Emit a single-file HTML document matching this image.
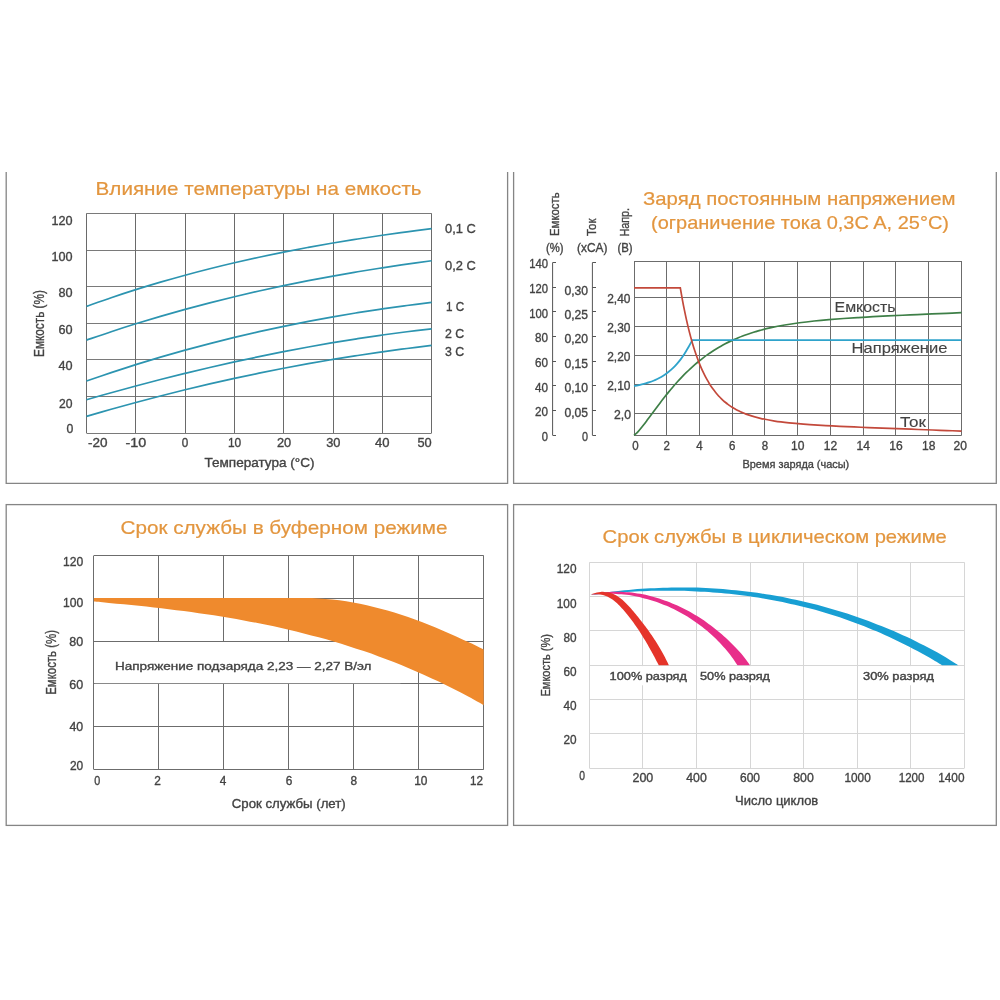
<!DOCTYPE html>
<html lang="ru">
<head>
<meta charset="utf-8">
<title>Графики характеристик аккумулятора</title>
<style>
html,body{margin:0;padding:0;background:#fff;}
body{width:1000px;height:1000px;overflow:hidden;}
svg{display:block;font-family:"Liberation Sans", sans-serif;will-change:transform;}
</style>
</head>
<body>
<svg width="1000" height="1000" viewBox="0 0 1000 1000">
<rect width="1000" height="1000" fill="#ffffff"/>
<path d="M6.2,172 V483.3 H507.6 V172" fill="none" stroke="#858585" stroke-width="1.3"/>
<path d="M513.6,172 V483.3 H996.3 V172" fill="none" stroke="#858585" stroke-width="1.3"/>
<rect x="6.2" y="504.6" width="501.40" height="320.80" fill="none" stroke="#858585" stroke-width="1.3"/>
<rect x="513.6" y="504.6" width="482.70" height="320.80" fill="none" stroke="#858585" stroke-width="1.3"/>
<line x1="86.50" y1="213.50" x2="431.60" y2="213.50" stroke="#7a7a7a" stroke-width="1"/>
<line x1="86.50" y1="250.50" x2="431.60" y2="250.50" stroke="#7a7a7a" stroke-width="1"/>
<line x1="86.50" y1="286.50" x2="431.60" y2="286.50" stroke="#7a7a7a" stroke-width="1"/>
<line x1="86.50" y1="323.50" x2="431.60" y2="323.50" stroke="#7a7a7a" stroke-width="1"/>
<line x1="86.50" y1="359.50" x2="431.60" y2="359.50" stroke="#7a7a7a" stroke-width="1"/>
<line x1="86.50" y1="396.50" x2="431.60" y2="396.50" stroke="#7a7a7a" stroke-width="1"/>
<line x1="86.50" y1="433.50" x2="431.60" y2="433.50" stroke="#7a7a7a" stroke-width="1"/>
<line x1="86.50" y1="213.40" x2="86.50" y2="433.00" stroke="#6a6a6a" stroke-width="1"/>
<line x1="135.50" y1="213.40" x2="135.50" y2="433.00" stroke="#6a6a6a" stroke-width="1"/>
<line x1="185.50" y1="213.40" x2="185.50" y2="433.00" stroke="#6a6a6a" stroke-width="1"/>
<line x1="234.50" y1="213.40" x2="234.50" y2="433.00" stroke="#6a6a6a" stroke-width="1"/>
<line x1="283.50" y1="213.40" x2="283.50" y2="433.00" stroke="#6a6a6a" stroke-width="1"/>
<line x1="333.50" y1="213.40" x2="333.50" y2="433.00" stroke="#6a6a6a" stroke-width="1"/>
<line x1="382.50" y1="213.40" x2="382.50" y2="433.00" stroke="#6a6a6a" stroke-width="1"/>
<line x1="431.50" y1="213.40" x2="431.50" y2="433.00" stroke="#6a6a6a" stroke-width="1"/>
<path d="M86.50,306.40 C90.61,304.96 102.93,300.53 111.15,297.74 C119.37,294.96 127.58,292.27 135.80,289.68 C144.02,287.09 152.23,284.59 160.45,282.18 C168.67,279.77 176.88,277.45 185.10,275.21 C193.32,272.97 201.53,270.82 209.75,268.75 C217.97,266.67 226.18,264.68 234.40,262.76 C242.62,260.84 250.83,259.00 259.05,257.22 C267.27,255.44 275.48,253.74 283.70,252.10 C291.92,250.46 300.13,248.89 308.35,247.37 C316.57,245.85 324.78,244.40 333.00,243.00 C341.22,241.61 349.43,240.27 357.65,238.97 C365.87,237.68 374.08,236.44 382.30,235.25 C390.52,234.05 398.73,232.91 406.95,231.80 C415.17,230.69 427.49,229.14 431.60,228.60" fill="none" stroke="#2c94b0" stroke-width="1.7" stroke-linecap="butt"/>
<path d="M86.50,340.11 C90.61,338.71 102.93,334.42 111.15,331.70 C119.37,328.98 127.58,326.35 135.80,323.79 C144.02,321.23 152.23,318.75 160.45,316.35 C168.67,313.95 176.88,311.62 185.10,309.37 C193.32,307.11 201.53,304.93 209.75,302.82 C217.97,300.71 226.18,298.67 234.40,296.70 C242.62,294.72 250.83,292.82 259.05,290.98 C267.27,289.13 275.48,287.36 283.70,285.64 C291.92,283.93 300.13,282.27 308.35,280.68 C316.57,279.08 324.78,277.54 333.00,276.06 C341.22,274.58 349.43,273.16 357.65,271.78 C365.87,270.41 374.08,269.09 382.30,267.82 C390.52,266.54 398.73,265.33 406.95,264.15 C415.17,262.98 427.49,261.33 431.60,260.77" fill="none" stroke="#2c94b0" stroke-width="1.7" stroke-linecap="butt"/>
<path d="M86.50,381.04 C90.61,379.63 102.93,375.34 111.15,372.61 C119.37,369.88 127.58,367.24 135.80,364.66 C144.02,362.09 152.23,359.60 160.45,357.18 C168.67,354.76 176.88,352.42 185.10,350.15 C193.32,347.88 201.53,345.68 209.75,343.56 C217.97,341.43 226.18,339.38 234.40,337.40 C242.62,335.42 250.83,333.51 259.05,331.66 C267.27,329.82 275.48,328.05 283.70,326.34 C291.92,324.63 300.13,322.99 308.35,321.41 C316.57,319.83 324.78,318.32 333.00,316.87 C341.22,315.42 349.43,314.04 357.65,312.71 C365.87,311.38 374.08,310.12 382.30,308.91 C390.52,307.71 398.73,306.56 406.95,305.47 C415.17,304.38 427.49,302.89 431.60,302.38" fill="none" stroke="#2c94b0" stroke-width="1.7" stroke-linecap="butt"/>
<path d="M86.50,399.71 C90.61,398.54 102.93,395.01 111.15,392.72 C119.37,390.44 127.58,388.20 135.80,386.00 C144.02,383.80 152.23,381.65 160.45,379.55 C168.67,377.44 176.88,375.39 185.10,373.38 C193.32,371.37 201.53,369.40 209.75,367.49 C217.97,365.58 226.18,363.71 234.40,361.90 C242.62,360.09 250.83,358.33 259.05,356.62 C267.27,354.91 275.48,353.25 283.70,351.64 C291.92,350.04 300.13,348.48 308.35,346.99 C316.57,345.49 324.78,344.05 333.00,342.66 C341.22,341.27 349.43,339.94 357.65,338.67 C365.87,337.40 374.08,336.18 382.30,335.02 C390.52,333.86 398.73,332.77 406.95,331.73 C415.17,330.69 427.49,329.28 431.60,328.79" fill="none" stroke="#2c94b0" stroke-width="1.7" stroke-linecap="butt"/>
<path d="M86.50,416.42 C90.61,415.23 102.93,411.61 111.15,409.28 C119.37,406.96 127.58,404.68 135.80,402.46 C144.02,400.25 152.23,398.08 160.45,395.97 C168.67,393.86 176.88,391.80 185.10,389.80 C193.32,387.79 201.53,385.84 209.75,383.94 C217.97,382.05 226.18,380.20 234.40,378.41 C242.62,376.62 250.83,374.88 259.05,373.19 C267.27,371.51 275.48,369.87 283.70,368.29 C291.92,366.71 300.13,365.18 308.35,363.71 C316.57,362.23 324.78,360.81 333.00,359.43 C341.22,358.06 349.43,356.74 357.65,355.47 C365.87,354.21 374.08,352.99 382.30,351.82 C390.52,350.66 398.73,349.55 406.95,348.48 C415.17,347.42 427.49,345.96 431.60,345.45" fill="none" stroke="#2c94b0" stroke-width="1.7" stroke-linecap="butt"/>
<text x="95.60" y="195.30" font-size="18.6" fill="#e3963f" stroke="#e3963f" stroke-width="0.2" textLength="326.00" lengthAdjust="spacingAndGlyphs">Влияние температуры на емкость</text>
<text x="51.40" y="224.70" font-size="12.7" fill="#434343" stroke="#434343" stroke-width="0.35" textLength="21.10" lengthAdjust="spacingAndGlyphs">120</text>
<text x="51.40" y="261.00" font-size="12.7" fill="#434343" stroke="#434343" stroke-width="0.35" textLength="21.10" lengthAdjust="spacingAndGlyphs">100</text>
<text x="58.40" y="297.30" font-size="12.7" fill="#434343" stroke="#434343" stroke-width="0.35" textLength="14.10" lengthAdjust="spacingAndGlyphs">80</text>
<text x="58.40" y="333.60" font-size="12.7" fill="#434343" stroke="#434343" stroke-width="0.35" textLength="14.10" lengthAdjust="spacingAndGlyphs">60</text>
<text x="58.40" y="370.30" font-size="12.7" fill="#434343" stroke="#434343" stroke-width="0.35" textLength="14.10" lengthAdjust="spacingAndGlyphs">40</text>
<text x="59.00" y="408.20" font-size="12.7" fill="#434343" stroke="#434343" stroke-width="0.35" textLength="13.50" lengthAdjust="spacingAndGlyphs">20</text>
<text x="66.60" y="433.20" font-size="12.7" fill="#434343" stroke="#434343" stroke-width="0.35" textLength="6.80" lengthAdjust="spacingAndGlyphs">0</text>
<text x="88.00" y="446.60" font-size="12.7" fill="#434343" stroke="#434343" stroke-width="0.35" textLength="19.50" lengthAdjust="spacingAndGlyphs">-20</text>
<text x="125.50" y="446.60" font-size="12.7" fill="#434343" stroke="#434343" stroke-width="0.35" textLength="20.75" lengthAdjust="spacingAndGlyphs">-10</text>
<text x="181.75" y="446.60" font-size="12.7" fill="#434343" stroke="#434343" stroke-width="0.35" textLength="6.50" lengthAdjust="spacingAndGlyphs">0</text>
<text x="228.00" y="446.60" font-size="12.7" fill="#434343" stroke="#434343" stroke-width="0.35" textLength="13.25" lengthAdjust="spacingAndGlyphs">10</text>
<text x="277.00" y="446.60" font-size="12.7" fill="#434343" stroke="#434343" stroke-width="0.35" textLength="14.25" lengthAdjust="spacingAndGlyphs">20</text>
<text x="326.25" y="446.60" font-size="12.7" fill="#434343" stroke="#434343" stroke-width="0.35" textLength="14.25" lengthAdjust="spacingAndGlyphs">30</text>
<text x="375.00" y="446.60" font-size="12.7" fill="#434343" stroke="#434343" stroke-width="0.35" textLength="14.50" lengthAdjust="spacingAndGlyphs">40</text>
<text x="417.50" y="446.60" font-size="12.7" fill="#434343" stroke="#434343" stroke-width="0.35" textLength="14.25" lengthAdjust="spacingAndGlyphs">50</text>
<text x="204.50" y="466.50" font-size="12.6" fill="#434343" stroke="#434343" stroke-width="0.35" textLength="110.00" lengthAdjust="spacingAndGlyphs">Температура (°C)</text>
<text x="445.00" y="233.25" font-size="13.2" fill="#434343" stroke="#434343" stroke-width="0.35" textLength="30.75" lengthAdjust="spacingAndGlyphs">0,1 C</text>
<text x="445.00" y="270.00" font-size="13.2" fill="#434343" stroke="#434343" stroke-width="0.35" textLength="30.75" lengthAdjust="spacingAndGlyphs">0,2 C</text>
<text x="446.00" y="310.50" font-size="13.2" fill="#434343" stroke="#434343" stroke-width="0.35" textLength="18.25" lengthAdjust="spacingAndGlyphs">1 C</text>
<text x="445.00" y="337.50" font-size="13.2" fill="#434343" stroke="#434343" stroke-width="0.35" textLength="19.25" lengthAdjust="spacingAndGlyphs">2 C</text>
<text x="445.00" y="355.50" font-size="13.2" fill="#434343" stroke="#434343" stroke-width="0.35" textLength="19.25" lengthAdjust="spacingAndGlyphs">3 C</text>
<text transform="translate(43.50,357.00) rotate(-90)" font-size="14.4" fill="#434343" stroke="#434343" stroke-width="0.35" textLength="67.00" lengthAdjust="spacingAndGlyphs">Емкость (%)</text>
<line x1="634.50" y1="261.00" x2="634.50" y2="435.60" stroke="#6c6c6c" stroke-width="1"/>
<line x1="666.50" y1="261.00" x2="666.50" y2="435.60" stroke="#6c6c6c" stroke-width="1"/>
<line x1="699.50" y1="261.00" x2="699.50" y2="435.60" stroke="#6c6c6c" stroke-width="1"/>
<line x1="732.50" y1="261.00" x2="732.50" y2="435.60" stroke="#6c6c6c" stroke-width="1"/>
<line x1="764.50" y1="261.00" x2="764.50" y2="435.60" stroke="#6c6c6c" stroke-width="1"/>
<line x1="797.50" y1="261.00" x2="797.50" y2="435.60" stroke="#6c6c6c" stroke-width="1"/>
<line x1="830.50" y1="261.00" x2="830.50" y2="435.60" stroke="#6c6c6c" stroke-width="1"/>
<line x1="863.50" y1="261.00" x2="863.50" y2="435.60" stroke="#6c6c6c" stroke-width="1"/>
<line x1="895.50" y1="261.00" x2="895.50" y2="435.60" stroke="#6c6c6c" stroke-width="1"/>
<line x1="928.50" y1="261.00" x2="928.50" y2="435.60" stroke="#6c6c6c" stroke-width="1"/>
<line x1="961.50" y1="261.00" x2="961.50" y2="435.60" stroke="#6c6c6c" stroke-width="1"/>
<line x1="634.00" y1="261.50" x2="961.40" y2="261.50" stroke="#6c6c6c" stroke-width="1"/>
<line x1="634.00" y1="297.50" x2="961.40" y2="297.50" stroke="#6c6c6c" stroke-width="1"/>
<line x1="634.00" y1="326.50" x2="961.40" y2="326.50" stroke="#6c6c6c" stroke-width="1"/>
<line x1="634.00" y1="355.50" x2="961.40" y2="355.50" stroke="#6c6c6c" stroke-width="1"/>
<line x1="634.00" y1="384.50" x2="961.40" y2="384.50" stroke="#6c6c6c" stroke-width="1"/>
<line x1="634.00" y1="413.50" x2="961.40" y2="413.50" stroke="#6c6c6c" stroke-width="1"/>
<line x1="634.00" y1="435.50" x2="961.40" y2="435.50" stroke="#6c6c6c" stroke-width="1"/>
<path d="M552.6,262.60 V435.22" fill="none" stroke="#555" stroke-width="1"/>
<line x1="552.60" y1="262.50" x2="556.00" y2="262.50" stroke="#555" stroke-width="1"/>
<line x1="552.60" y1="287.50" x2="556.00" y2="287.50" stroke="#555" stroke-width="1"/>
<line x1="552.60" y1="311.50" x2="556.00" y2="311.50" stroke="#555" stroke-width="1"/>
<line x1="552.60" y1="336.50" x2="556.00" y2="336.50" stroke="#555" stroke-width="1"/>
<line x1="552.60" y1="361.50" x2="556.00" y2="361.50" stroke="#555" stroke-width="1"/>
<line x1="552.60" y1="385.50" x2="556.00" y2="385.50" stroke="#555" stroke-width="1"/>
<line x1="552.60" y1="410.50" x2="556.00" y2="410.50" stroke="#555" stroke-width="1"/>
<line x1="552.60" y1="435.50" x2="556.00" y2="435.50" stroke="#555" stroke-width="1"/>
<path d="M592.4,262.60 V435.22" fill="none" stroke="#555" stroke-width="1"/>
<line x1="592.40" y1="262.50" x2="596.00" y2="262.50" stroke="#555" stroke-width="1"/>
<line x1="592.40" y1="287.50" x2="596.00" y2="287.50" stroke="#555" stroke-width="1"/>
<line x1="592.40" y1="311.50" x2="596.00" y2="311.50" stroke="#555" stroke-width="1"/>
<line x1="592.40" y1="336.50" x2="596.00" y2="336.50" stroke="#555" stroke-width="1"/>
<line x1="592.40" y1="361.50" x2="596.00" y2="361.50" stroke="#555" stroke-width="1"/>
<line x1="592.40" y1="385.50" x2="596.00" y2="385.50" stroke="#555" stroke-width="1"/>
<line x1="592.40" y1="410.50" x2="596.00" y2="410.50" stroke="#555" stroke-width="1"/>
<line x1="592.40" y1="435.50" x2="596.00" y2="435.50" stroke="#555" stroke-width="1"/>
<path d="M634.00,435.40 C634.72,434.73 636.90,432.91 638.34,431.35 C639.79,429.80 641.24,427.89 642.69,426.06 C644.14,424.23 645.59,422.28 647.03,420.35 C648.48,418.43 649.93,416.45 651.38,414.50 C652.83,412.55 654.28,410.59 655.72,408.65 C657.17,406.72 658.62,404.79 660.07,402.90 C661.52,401.00 662.97,399.13 664.41,397.30 C665.86,395.47 667.31,393.66 668.76,391.90 C670.21,390.14 671.66,388.41 673.10,386.72 C674.55,385.04 676.00,383.40 677.45,381.79 C678.90,380.19 680.34,378.64 681.79,377.12 C683.24,375.60 684.69,374.13 686.14,372.70 C687.59,371.28 689.03,369.89 690.48,368.55 C691.93,367.20 693.38,365.90 694.83,364.65 C696.28,363.39 697.72,362.17 699.17,360.99 C700.62,359.82 702.07,358.68 703.52,357.58 C704.97,356.48 706.41,355.43 707.86,354.40 C709.31,353.38 710.76,352.40 712.21,351.45 C713.66,350.50 715.10,349.58 716.55,348.70 C718.00,347.82 719.45,346.98 720.90,346.16 C722.34,345.34 723.79,344.56 725.24,343.80 C726.69,343.05 728.14,342.32 729.59,341.62 C731.03,340.92 732.48,340.25 733.93,339.61 C735.38,338.96 736.83,338.34 738.28,337.75 C739.72,337.15 741.17,336.58 742.62,336.03 C744.07,335.48 745.52,334.96 746.97,334.45 C748.41,333.95 749.86,333.46 751.31,332.99 C752.76,332.53 754.21,332.08 755.66,331.65 C757.10,331.22 757.61,331.03 760.00,330.41 C762.39,329.79 765.88,328.82 770.00,327.92 C774.12,327.02 779.82,325.86 784.72,325.00 C789.63,324.14 794.54,323.43 799.45,322.76 C804.35,322.10 809.26,321.54 814.17,321.02 C819.08,320.50 823.98,320.05 828.89,319.63 C833.80,319.21 838.71,318.84 843.62,318.49 C848.52,318.14 853.43,317.83 858.34,317.53 C863.25,317.23 868.15,316.95 873.06,316.69 C877.97,316.42 882.88,316.17 887.78,315.93 C892.69,315.68 897.60,315.45 902.51,315.23 C907.42,315.00 912.32,314.78 917.23,314.57 C922.14,314.35 927.05,314.14 931.95,313.93 C936.86,313.73 941.77,313.52 946.68,313.32 C951.58,313.12 958.95,312.82 961.40,312.72" fill="none" stroke="#3e7f47" stroke-width="1.7" stroke-linecap="butt"/>
<path d="M634.00,385.97 C634.65,385.85 636.59,385.53 637.89,385.28 C639.18,385.02 640.48,384.74 641.77,384.43 C643.07,384.12 644.36,383.79 645.66,383.41 C646.96,383.04 648.25,382.64 649.55,382.19 C650.84,381.74 652.14,381.26 653.43,380.73 C654.73,380.19 656.02,379.62 657.32,378.98 C658.62,378.35 659.91,377.66 661.21,376.91 C662.50,376.16 663.80,375.35 665.09,374.45 C666.39,373.56 667.68,372.61 668.98,371.55 C670.28,370.50 671.57,369.37 672.87,368.13 C674.16,366.88 675.46,365.55 676.75,364.09 C678.05,362.62 679.34,361.06 680.64,359.34 C681.94,357.61 683.23,355.78 684.53,353.75 C685.82,351.73 687.12,349.45 688.41,347.19 C689.71,344.93 691.65,341.36 692.30,340.20 L961.40,340.2" fill="none" stroke="#2fa3cb" stroke-width="1.8" stroke-linejoin="miter"/>
<path d="M634,287.9 L680.30,287.90 C680.64,289.85 681.67,295.87 682.36,299.59 C683.04,303.30 683.73,306.83 684.42,310.20 C685.10,313.58 685.79,316.79 686.48,319.86 C687.16,322.93 687.85,325.84 688.53,328.64 C689.22,331.43 689.91,334.08 690.59,336.62 C691.28,339.17 691.97,341.58 692.65,343.90 C693.34,346.21 694.02,348.41 694.71,350.52 C695.40,352.63 696.08,354.64 696.77,356.56 C697.46,358.48 698.14,360.31 698.83,362.07 C699.51,363.82 700.20,365.49 700.89,367.09 C701.57,368.69 702.26,370.21 702.94,371.68 C703.63,373.14 704.32,374.53 705.00,375.87 C705.69,377.20 706.38,378.47 707.06,379.70 C707.75,380.92 708.43,382.08 709.12,383.20 C709.81,384.32 710.49,385.38 711.18,386.41 C711.87,387.43 712.55,388.41 713.24,389.34 C713.92,390.28 714.61,391.18 715.30,392.04 C715.98,392.90 716.67,393.72 717.36,394.51 C718.04,395.29 718.73,396.05 719.41,396.77 C720.10,397.50 720.79,398.19 721.47,398.85 C722.16,399.52 722.84,400.15 723.53,400.77 C724.22,401.38 724.90,401.96 725.59,402.53 C726.28,403.09 726.96,403.63 727.65,404.15 C728.33,404.67 729.02,405.16 729.71,405.64 C730.39,406.12 731.08,406.58 731.77,407.02 C732.45,407.46 733.14,407.88 733.82,408.29 C734.51,408.70 735.20,409.09 735.88,409.46 C736.57,409.84 737.26,410.20 737.94,410.55 C738.63,410.90 738.66,410.97 740.00,411.56 C741.34,412.14 742.61,412.95 746.00,414.08 C749.39,415.22 755.57,417.19 760.36,418.35 C765.15,419.51 769.93,420.30 774.72,421.05 C779.51,421.79 784.29,422.33 789.08,422.85 C793.87,423.36 798.65,423.76 803.44,424.14 C808.23,424.52 813.01,424.83 817.80,425.13 C822.59,425.43 827.37,425.68 832.16,425.93 C836.95,426.19 841.73,426.41 846.52,426.63 C851.31,426.85 856.09,427.06 860.88,427.26 C865.67,427.46 870.45,427.66 875.24,427.85 C880.03,428.04 884.81,428.22 889.60,428.41 C894.39,428.59 899.17,428.77 903.96,428.95 C908.75,429.13 913.53,429.31 918.32,429.48 C923.11,429.66 927.89,429.84 932.68,430.01 C937.47,430.19 942.25,430.36 947.04,430.53 C951.83,430.71 959.01,430.96 961.40,431.05" fill="none" stroke="#c3493b" stroke-width="1.7" stroke-linejoin="miter"/>
<text x="643.00" y="204.50" font-size="18.2" fill="#e3963f" stroke="#e3963f" stroke-width="0.2" textLength="312.50" lengthAdjust="spacingAndGlyphs">Заряд постоянным напряжением</text>
<text x="651.00" y="228.70" font-size="18.2" fill="#e3963f" stroke="#e3963f" stroke-width="0.2" textLength="298.00" lengthAdjust="spacingAndGlyphs">(ограничение тока 0,3C A, 25°C)</text>
<text transform="translate(558.60,236.00) rotate(-90)" font-size="13.6" fill="#434343" stroke="#434343" stroke-width="0.35" textLength="43.60" lengthAdjust="spacingAndGlyphs">Емкость</text>
<text transform="translate(596.00,236.00) rotate(-90)" font-size="13.6" fill="#434343" stroke="#434343" stroke-width="0.35" textLength="17.40" lengthAdjust="spacingAndGlyphs">Ток</text>
<text transform="translate(628.60,236.60) rotate(-90)" font-size="13.6" fill="#434343" stroke="#434343" stroke-width="0.35" textLength="28.60" lengthAdjust="spacingAndGlyphs">Напр.</text>
<text x="546.00" y="252.40" font-size="12.2" fill="#434343" stroke="#434343" stroke-width="0.35" textLength="17.60" lengthAdjust="spacingAndGlyphs">(%)</text>
<text x="577.00" y="252.40" font-size="12.2" fill="#434343" stroke="#434343" stroke-width="0.35" textLength="30.40" lengthAdjust="spacingAndGlyphs">(xCA)</text>
<text x="617.40" y="252.40" font-size="12.2" fill="#434343" stroke="#434343" stroke-width="0.35" textLength="15.20" lengthAdjust="spacingAndGlyphs">(B)</text>
<text x="529.20" y="268.30" font-size="12.9" fill="#434343" stroke="#434343" stroke-width="0.35" textLength="18.80" lengthAdjust="spacingAndGlyphs">140</text>
<text x="529.20" y="292.98" font-size="12.9" fill="#434343" stroke="#434343" stroke-width="0.35" textLength="18.80" lengthAdjust="spacingAndGlyphs">120</text>
<text x="529.20" y="317.66" font-size="12.9" fill="#434343" stroke="#434343" stroke-width="0.35" textLength="18.80" lengthAdjust="spacingAndGlyphs">100</text>
<text x="535.00" y="342.34" font-size="12.9" fill="#434343" stroke="#434343" stroke-width="0.35" textLength="13.00" lengthAdjust="spacingAndGlyphs">80</text>
<text x="535.00" y="367.02" font-size="12.9" fill="#434343" stroke="#434343" stroke-width="0.35" textLength="13.00" lengthAdjust="spacingAndGlyphs">60</text>
<text x="535.00" y="391.70" font-size="12.9" fill="#434343" stroke="#434343" stroke-width="0.35" textLength="13.00" lengthAdjust="spacingAndGlyphs">40</text>
<text x="535.00" y="416.38" font-size="12.9" fill="#434343" stroke="#434343" stroke-width="0.35" textLength="13.00" lengthAdjust="spacingAndGlyphs">20</text>
<text x="541.80" y="441.06" font-size="12.9" fill="#434343" stroke="#434343" stroke-width="0.35" textLength="6.20" lengthAdjust="spacingAndGlyphs">0</text>
<text x="564.40" y="294.50" font-size="12.9" fill="#434343" stroke="#434343" stroke-width="0.35" textLength="23.60" lengthAdjust="spacingAndGlyphs">0,30</text>
<text x="564.40" y="318.93" font-size="12.9" fill="#434343" stroke="#434343" stroke-width="0.35" textLength="23.60" lengthAdjust="spacingAndGlyphs">0,25</text>
<text x="564.40" y="343.36" font-size="12.9" fill="#434343" stroke="#434343" stroke-width="0.35" textLength="23.60" lengthAdjust="spacingAndGlyphs">0,20</text>
<text x="564.40" y="367.79" font-size="12.9" fill="#434343" stroke="#434343" stroke-width="0.35" textLength="23.60" lengthAdjust="spacingAndGlyphs">0,15</text>
<text x="564.40" y="392.22" font-size="12.9" fill="#434343" stroke="#434343" stroke-width="0.35" textLength="23.60" lengthAdjust="spacingAndGlyphs">0,10</text>
<text x="564.40" y="416.65" font-size="12.9" fill="#434343" stroke="#434343" stroke-width="0.35" textLength="23.60" lengthAdjust="spacingAndGlyphs">0,05</text>
<text x="582.00" y="440.98" font-size="12.9" fill="#434343" stroke="#434343" stroke-width="0.35" textLength="6.00" lengthAdjust="spacingAndGlyphs">0</text>
<text x="607.20" y="302.50" font-size="12.9" fill="#434343" stroke="#434343" stroke-width="0.35" textLength="23.20" lengthAdjust="spacingAndGlyphs">2,40</text>
<text x="607.20" y="331.70" font-size="12.9" fill="#434343" stroke="#434343" stroke-width="0.35" textLength="23.20" lengthAdjust="spacingAndGlyphs">2,30</text>
<text x="607.20" y="360.90" font-size="12.9" fill="#434343" stroke="#434343" stroke-width="0.35" textLength="23.20" lengthAdjust="spacingAndGlyphs">2,20</text>
<text x="607.20" y="390.10" font-size="12.9" fill="#434343" stroke="#434343" stroke-width="0.35" textLength="23.20" lengthAdjust="spacingAndGlyphs">2,10</text>
<text x="614.00" y="419.00" font-size="12.9" fill="#434343" stroke="#434343" stroke-width="0.35" textLength="17.00" lengthAdjust="spacingAndGlyphs">2,0</text>
<text x="632.20" y="450.20" font-size="12.9" fill="#434343" stroke="#434343" stroke-width="0.35" textLength="6.40" lengthAdjust="spacingAndGlyphs">0</text>
<text x="663.54" y="450.20" font-size="12.9" fill="#434343" stroke="#434343" stroke-width="0.35" textLength="6.40" lengthAdjust="spacingAndGlyphs">2</text>
<text x="696.28" y="450.20" font-size="12.9" fill="#434343" stroke="#434343" stroke-width="0.35" textLength="6.40" lengthAdjust="spacingAndGlyphs">4</text>
<text x="729.02" y="450.20" font-size="12.9" fill="#434343" stroke="#434343" stroke-width="0.35" textLength="6.40" lengthAdjust="spacingAndGlyphs">6</text>
<text x="761.76" y="450.20" font-size="12.9" fill="#434343" stroke="#434343" stroke-width="0.35" textLength="6.40" lengthAdjust="spacingAndGlyphs">8</text>
<text x="791.00" y="450.20" font-size="12.9" fill="#434343" stroke="#434343" stroke-width="0.35" textLength="13.40" lengthAdjust="spacingAndGlyphs">10</text>
<text x="823.74" y="450.20" font-size="12.9" fill="#434343" stroke="#434343" stroke-width="0.35" textLength="13.40" lengthAdjust="spacingAndGlyphs">12</text>
<text x="856.48" y="450.20" font-size="12.9" fill="#434343" stroke="#434343" stroke-width="0.35" textLength="13.40" lengthAdjust="spacingAndGlyphs">14</text>
<text x="889.22" y="450.20" font-size="12.9" fill="#434343" stroke="#434343" stroke-width="0.35" textLength="13.40" lengthAdjust="spacingAndGlyphs">16</text>
<text x="921.96" y="450.20" font-size="12.9" fill="#434343" stroke="#434343" stroke-width="0.35" textLength="13.40" lengthAdjust="spacingAndGlyphs">18</text>
<text x="953.50" y="450.20" font-size="12.9" fill="#434343" stroke="#434343" stroke-width="0.35" textLength="13.40" lengthAdjust="spacingAndGlyphs">20</text>
<text x="742.50" y="467.50" font-size="11.5" fill="#434343" stroke="#434343" stroke-width="0.35" textLength="106.75" lengthAdjust="spacingAndGlyphs">Время заряда (часы)</text>
<text x="834.60" y="312.40" font-size="14.6" fill="#434343" stroke="#434343" stroke-width="0.12" textLength="61.00" lengthAdjust="spacingAndGlyphs">Емкость</text>
<text x="851.60" y="353.20" font-size="14.6" fill="#434343" stroke="#434343" stroke-width="0.12" textLength="95.80" lengthAdjust="spacingAndGlyphs">Напряжение</text>
<text x="900.00" y="427.00" font-size="14.6" fill="#434343" stroke="#434343" stroke-width="0.12" textLength="26.00" lengthAdjust="spacingAndGlyphs">Ток</text>
<line x1="93.50" y1="555.60" x2="93.50" y2="769.50" stroke="#6c6c6c" stroke-width="1"/>
<line x1="158.50" y1="555.60" x2="158.50" y2="769.50" stroke="#6c6c6c" stroke-width="1"/>
<line x1="223.50" y1="555.60" x2="223.50" y2="769.50" stroke="#6c6c6c" stroke-width="1"/>
<line x1="288.50" y1="555.60" x2="288.50" y2="769.50" stroke="#6c6c6c" stroke-width="1"/>
<line x1="353.50" y1="555.60" x2="353.50" y2="769.50" stroke="#6c6c6c" stroke-width="1"/>
<line x1="418.50" y1="555.60" x2="418.50" y2="769.50" stroke="#6c6c6c" stroke-width="1"/>
<line x1="483.50" y1="555.60" x2="483.50" y2="769.50" stroke="#6c6c6c" stroke-width="1"/>
<line x1="93.90" y1="555.50" x2="483.70" y2="555.50" stroke="#6c6c6c" stroke-width="1"/>
<line x1="93.90" y1="598.50" x2="483.70" y2="598.50" stroke="#6c6c6c" stroke-width="1"/>
<line x1="93.90" y1="641.50" x2="483.70" y2="641.50" stroke="#6c6c6c" stroke-width="1"/>
<line x1="93.90" y1="683.50" x2="483.70" y2="683.50" stroke="#6c6c6c" stroke-width="1"/>
<line x1="93.90" y1="726.50" x2="483.70" y2="726.50" stroke="#6c6c6c" stroke-width="1"/>
<line x1="93.90" y1="769.50" x2="483.70" y2="769.50" stroke="#6c6c6c" stroke-width="1"/>
<rect x="94.50" y="642.0" width="306" height="41.2" fill="#fff"/>
<path d="M93.90,598.00 C111.58,598.00 167.32,598.00 200.00,598.00 C232.68,598.00 272.50,598.00 290.00,598.00 C307.50,598.00 300.21,597.94 305.00,598.00 C309.79,598.06 314.16,598.13 318.75,598.38 C323.33,598.63 327.91,599.01 332.49,599.50 C337.07,599.99 341.66,600.60 346.24,601.32 C350.82,602.04 355.40,602.87 359.98,603.80 C364.57,604.73 369.15,605.77 373.73,606.90 C378.31,608.04 382.89,609.27 387.48,610.59 C392.06,611.91 396.64,613.33 401.22,614.82 C405.81,616.32 410.39,617.91 414.97,619.57 C419.55,621.22 424.13,622.97 428.72,624.77 C433.30,626.58 437.88,628.47 442.46,630.41 C447.04,632.36 451.63,634.38 456.21,636.45 C460.79,638.52 465.37,640.65 469.95,642.83 C474.54,645.01 481.41,648.42 483.70,649.53 L483.70,705.15 C481.20,703.77 473.71,699.52 468.71,696.82 C463.71,694.12 458.71,691.51 453.72,688.97 C448.72,686.43 443.72,683.98 438.72,681.59 C433.73,679.20 428.73,676.90 423.73,674.66 C418.73,672.42 413.74,670.26 408.74,668.16 C403.74,666.06 398.74,664.04 393.75,662.08 C388.75,660.12 383.75,658.23 378.75,656.40 C373.76,654.57 368.76,652.80 363.76,651.10 C358.76,649.39 353.77,647.75 348.77,646.16 C343.77,644.58 338.77,643.05 333.78,641.58 C328.78,640.10 323.78,638.69 318.78,637.32 C313.79,635.95 308.79,634.64 303.79,633.38 C298.79,632.11 293.80,630.90 288.80,629.73 C283.80,628.56 278.81,627.44 273.81,626.37 C268.81,625.29 263.81,624.26 258.82,623.26 C253.82,622.27 248.82,621.32 243.82,620.41 C238.83,619.49 233.83,618.62 228.83,617.78 C223.83,616.94 218.84,616.13 213.84,615.36 C208.84,614.59 203.84,613.85 198.85,613.14 C193.85,612.43 188.85,611.75 183.85,611.09 C178.86,610.44 173.86,609.81 168.86,609.20 C163.86,608.60 158.87,608.02 153.87,607.46 C148.87,606.90 143.87,606.37 138.88,605.85 C133.88,605.32 128.88,604.82 123.88,604.34 C118.89,603.85 113.89,603.38 108.89,602.92 C103.89,602.46 96.40,601.80 93.90,601.58 Z" fill="#ef8a2d"/>
<text x="120.50" y="534.20" font-size="18.6" fill="#e3963f" stroke="#e3963f" stroke-width="0.2" textLength="327.00" lengthAdjust="spacingAndGlyphs">Срок службы в буферном режиме</text>
<text x="63.00" y="566.40" font-size="12.7" fill="#434343" stroke="#434343" stroke-width="0.35" textLength="20.20" lengthAdjust="spacingAndGlyphs">120</text>
<text x="63.00" y="607.10" font-size="12.7" fill="#434343" stroke="#434343" stroke-width="0.35" textLength="20.20" lengthAdjust="spacingAndGlyphs">100</text>
<text x="69.30" y="646.30" font-size="12.7" fill="#434343" stroke="#434343" stroke-width="0.35" textLength="13.90" lengthAdjust="spacingAndGlyphs">80</text>
<text x="69.30" y="689.00" font-size="12.7" fill="#434343" stroke="#434343" stroke-width="0.35" textLength="13.90" lengthAdjust="spacingAndGlyphs">60</text>
<text x="69.50" y="730.60" font-size="12.7" fill="#434343" stroke="#434343" stroke-width="0.35" textLength="13.75" lengthAdjust="spacingAndGlyphs">40</text>
<text x="70.00" y="769.80" font-size="12.7" fill="#434343" stroke="#434343" stroke-width="0.35" textLength="13.25" lengthAdjust="spacingAndGlyphs">20</text>
<text x="94.25" y="785.00" font-size="12.7" fill="#434343" stroke="#434343" stroke-width="0.35" textLength="6.00" lengthAdjust="spacingAndGlyphs">0</text>
<text x="154.37" y="785.00" font-size="12.7" fill="#434343" stroke="#434343" stroke-width="0.35" textLength="6.60" lengthAdjust="spacingAndGlyphs">2</text>
<text x="219.83" y="785.00" font-size="12.7" fill="#434343" stroke="#434343" stroke-width="0.35" textLength="6.60" lengthAdjust="spacingAndGlyphs">4</text>
<text x="285.80" y="785.00" font-size="12.7" fill="#434343" stroke="#434343" stroke-width="0.35" textLength="6.60" lengthAdjust="spacingAndGlyphs">6</text>
<text x="350.47" y="785.00" font-size="12.7" fill="#434343" stroke="#434343" stroke-width="0.35" textLength="6.60" lengthAdjust="spacingAndGlyphs">8</text>
<text x="414.25" y="785.00" font-size="12.7" fill="#434343" stroke="#434343" stroke-width="0.35" textLength="13.25" lengthAdjust="spacingAndGlyphs">10</text>
<text x="470.00" y="785.00" font-size="12.7" fill="#434343" stroke="#434343" stroke-width="0.35" textLength="13.00" lengthAdjust="spacingAndGlyphs">12</text>
<text x="231.75" y="808.00" font-size="12.6" fill="#434343" stroke="#434343" stroke-width="0.35" textLength="114.00" lengthAdjust="spacingAndGlyphs">Срок службы (лет)</text>
<text transform="translate(55.50,694.80) rotate(-90)" font-size="14.4" fill="#434343" stroke="#434343" stroke-width="0.35" textLength="64.80" lengthAdjust="spacingAndGlyphs">Емкость (%)</text>
<text x="115.00" y="669.60" font-size="11.8" fill="#434343" stroke="#434343" stroke-width="0.35" textLength="256.50" lengthAdjust="spacingAndGlyphs">Напряжение подзаряда 2,23 — 2,27 В/эл</text>
<line x1="589.50" y1="562.40" x2="589.50" y2="768.00" stroke="#d6d6d6" stroke-width="1"/>
<line x1="642.50" y1="562.40" x2="642.50" y2="768.00" stroke="#d6d6d6" stroke-width="1"/>
<line x1="696.50" y1="562.40" x2="696.50" y2="768.00" stroke="#d6d6d6" stroke-width="1"/>
<line x1="750.50" y1="562.40" x2="750.50" y2="768.00" stroke="#d6d6d6" stroke-width="1"/>
<line x1="803.50" y1="562.40" x2="803.50" y2="768.00" stroke="#d6d6d6" stroke-width="1"/>
<line x1="857.50" y1="562.40" x2="857.50" y2="768.00" stroke="#d6d6d6" stroke-width="1"/>
<line x1="910.50" y1="562.40" x2="910.50" y2="768.00" stroke="#d6d6d6" stroke-width="1"/>
<line x1="964.50" y1="562.40" x2="964.50" y2="768.00" stroke="#d6d6d6" stroke-width="1"/>
<line x1="589.40" y1="562.50" x2="964.50" y2="562.50" stroke="#d6d6d6" stroke-width="1"/>
<line x1="589.40" y1="596.50" x2="964.50" y2="596.50" stroke="#d6d6d6" stroke-width="1"/>
<line x1="589.40" y1="630.50" x2="964.50" y2="630.50" stroke="#d6d6d6" stroke-width="1"/>
<line x1="589.40" y1="665.50" x2="964.50" y2="665.50" stroke="#d6d6d6" stroke-width="1"/>
<line x1="589.40" y1="699.50" x2="964.50" y2="699.50" stroke="#d6d6d6" stroke-width="1"/>
<line x1="589.40" y1="733.50" x2="964.50" y2="733.50" stroke="#d6d6d6" stroke-width="1"/>
<line x1="589.40" y1="768.50" x2="964.50" y2="768.50" stroke="#d6d6d6" stroke-width="1"/>
<rect x="606" y="666.1" width="84" height="19.2" fill="#fff"/>
<rect x="697" y="666.1" width="76" height="19.2" fill="#fff"/>
<rect x="860" y="666.1" width="77" height="19.2" fill="#fff"/>
<path d="M590.20,594.90 C591.63,594.68 595.91,593.99 598.77,593.57 C601.62,593.14 604.48,592.74 607.33,592.36 C610.19,591.98 613.04,591.62 615.90,591.29 C618.75,590.95 621.61,590.64 624.46,590.35 C627.32,590.06 630.17,589.79 633.03,589.54 C635.88,589.29 638.74,589.06 641.59,588.86 C644.45,588.66 647.30,588.47 650.16,588.32 C653.01,588.16 655.87,588.02 658.72,587.90 C661.58,587.79 664.43,587.70 667.29,587.63 C670.14,587.56 673.00,587.51 675.85,587.48 C678.71,587.46 681.56,587.45 684.42,587.47 C687.27,587.49 690.13,587.53 692.98,587.60 C695.84,587.66 698.69,587.75 701.55,587.86 C704.40,587.97 707.26,588.10 710.11,588.25 C712.97,588.41 715.82,588.58 718.68,588.78 C721.53,588.98 724.39,589.21 727.24,589.45 C730.10,589.70 732.95,589.97 735.81,590.26 C738.66,590.55 741.52,590.86 744.37,591.20 C747.23,591.54 750.08,591.90 752.94,592.28 C755.79,592.66 758.65,593.07 761.50,593.50 C764.36,593.93 767.21,594.38 770.07,594.86 C772.92,595.33 775.78,595.83 778.63,596.35 C781.49,596.88 784.34,597.42 787.20,597.99 C790.05,598.56 792.91,599.16 795.76,599.78 C798.62,600.39 801.47,601.04 804.33,601.70 C807.18,602.37 810.04,603.06 812.89,603.78 C815.75,604.50 818.60,605.24 821.46,606.01 C824.31,606.77 827.17,607.57 830.02,608.38 C832.88,609.20 835.73,610.05 838.59,610.92 C841.44,611.79 844.30,612.68 847.15,613.61 C850.01,614.53 852.86,615.48 855.72,616.45 C858.57,617.43 861.43,618.43 864.28,619.46 C867.14,620.49 869.99,621.54 872.85,622.63 C875.70,623.71 878.56,624.82 881.41,625.96 C884.27,627.11 887.12,628.27 889.98,629.48 C892.83,630.68 895.69,631.91 898.54,633.18 C901.40,634.44 904.25,635.74 907.11,637.08 C909.96,638.41 912.82,639.78 915.67,641.18 C918.53,642.59 921.38,644.03 924.24,645.51 C927.09,646.99 929.95,648.50 932.80,650.06 C935.66,651.62 938.51,653.21 941.37,654.85 C944.22,656.49 947.08,658.16 949.93,659.89 C952.79,661.61 957.07,664.30 958.50,665.19 L942.00,665.19 C940.64,664.38 936.55,661.89 933.82,660.29 C931.09,658.69 928.36,657.13 925.64,655.59 C922.91,654.06 920.18,652.56 917.46,651.09 C914.73,649.62 912.00,648.18 909.27,646.77 C906.55,645.37 903.82,643.99 901.09,642.65 C898.37,641.30 895.64,639.99 892.91,638.71 C890.18,637.43 887.46,636.17 884.73,634.95 C882.00,633.73 879.28,632.54 876.55,631.37 C873.82,630.21 871.09,629.07 868.37,627.97 C865.64,626.86 862.91,625.79 860.19,624.74 C857.46,623.69 854.73,622.67 852.00,621.68 C849.28,620.68 846.55,619.72 843.82,618.78 C841.10,617.84 838.37,616.93 835.64,616.05 C832.91,615.16 830.19,614.30 827.46,613.47 C824.73,612.64 822.01,611.83 819.28,611.05 C816.55,610.27 813.82,609.52 811.10,608.79 C808.37,608.06 805.64,607.35 802.92,606.67 C800.19,605.99 797.46,605.34 794.73,604.70 C792.01,604.07 789.28,603.46 786.55,602.88 C783.83,602.29 781.10,601.73 778.37,601.19 C775.64,600.65 772.92,600.13 770.19,599.64 C767.46,599.14 764.74,598.67 762.01,598.22 C759.28,597.77 756.56,597.34 753.83,596.94 C751.10,596.53 748.37,596.14 745.65,595.78 C742.92,595.41 740.19,595.07 737.47,594.74 C734.74,594.42 732.01,594.12 729.28,593.84 C726.56,593.55 723.83,593.29 721.10,593.05 C718.38,592.81 715.65,592.58 712.92,592.38 C710.19,592.18 707.47,592.00 704.74,591.83 C702.01,591.67 699.29,591.52 696.56,591.40 C693.83,591.27 691.10,591.16 688.38,591.07 C685.65,590.98 682.92,590.91 680.20,590.86 C677.47,590.81 674.74,590.77 672.01,590.76 C669.29,590.74 666.56,590.74 663.83,590.76 C661.11,590.77 658.38,590.81 655.65,590.86 C652.92,590.91 650.20,590.98 647.47,591.07 C644.74,591.15 642.02,591.26 639.29,591.37 C636.56,591.49 633.83,591.62 631.11,591.77 C628.38,591.92 625.65,592.08 622.93,592.25 C620.20,592.43 617.47,592.62 614.74,592.81 C612.02,593.01 609.29,593.23 606.56,593.45 C603.84,593.67 601.11,593.90 598.38,594.15 C595.65,594.39 591.56,594.78 590.20,594.90 Z" fill="#189fd3"/>
<path d="M590.20,594.90 C591.12,594.71 593.87,594.10 595.70,593.77 C597.54,593.43 599.39,593.14 601.24,592.88 C603.08,592.63 604.93,592.42 606.79,592.25 C608.64,592.08 610.49,591.96 612.35,591.87 C614.20,591.79 616.06,591.75 617.92,591.75 C619.77,591.75 621.63,591.79 623.48,591.88 C625.33,591.96 627.19,592.09 629.04,592.26 C630.89,592.42 632.73,592.64 634.58,592.89 C636.42,593.14 638.26,593.43 640.09,593.76 C641.93,594.10 643.76,594.47 645.58,594.87 C647.40,595.28 649.22,595.72 651.03,596.20 C652.84,596.67 654.64,597.19 656.43,597.73 C658.22,598.27 660.00,598.84 661.78,599.45 C663.55,600.05 665.31,600.68 667.06,601.34 C668.81,602.00 670.55,602.69 672.28,603.40 C674.01,604.11 675.72,604.84 677.42,605.60 C679.12,606.37 680.81,607.15 682.48,607.96 C684.15,608.78 685.81,609.61 687.46,610.48 C689.10,611.35 690.73,612.24 692.34,613.16 C693.95,614.08 695.55,615.02 697.13,616.00 C698.71,616.98 700.27,617.98 701.82,619.01 C703.36,620.05 704.89,621.11 706.40,622.19 C707.92,623.28 709.42,624.39 710.90,625.52 C712.38,626.65 713.85,627.81 715.31,628.98 C716.76,630.16 718.21,631.35 719.64,632.56 C721.07,633.77 722.48,635.00 723.89,636.24 C725.29,637.48 726.68,638.74 728.05,640.02 C729.41,641.30 730.77,642.59 732.10,643.91 C733.42,645.23 734.73,646.56 736.02,647.91 C737.30,649.27 738.56,650.64 739.79,652.04 C741.02,653.43 742.22,654.85 743.39,656.29 C744.56,657.73 745.70,659.19 746.80,660.67 C747.91,662.15 749.48,664.44 750.01,665.19 L737.50,665.20 C737.02,664.48 735.59,662.30 734.60,660.88 C733.61,659.46 732.60,658.06 731.56,656.67 C730.52,655.29 729.45,653.92 728.37,652.57 C727.28,651.21 726.17,649.88 725.04,648.57 C723.90,647.25 722.75,645.96 721.57,644.68 C720.39,643.40 719.19,642.15 717.97,640.91 C716.75,639.67 715.51,638.45 714.25,637.26 C712.99,636.06 711.71,634.88 710.41,633.73 C709.11,632.57 707.79,631.44 706.45,630.32 C705.11,629.21 703.76,628.12 702.38,627.04 C701.01,625.97 699.62,624.93 698.21,623.90 C696.81,622.87 695.38,621.87 693.94,620.89 C692.50,619.91 691.05,618.95 689.58,618.02 C688.11,617.09 686.62,616.18 685.12,615.29 C683.62,614.41 682.11,613.55 680.58,612.71 C679.05,611.87 677.51,611.06 675.96,610.27 C674.41,609.49 672.84,608.73 671.27,607.99 C669.69,607.26 668.10,606.55 666.51,605.87 C664.91,605.18 663.30,604.53 661.68,603.90 C660.06,603.27 658.43,602.67 656.79,602.09 C655.15,601.52 653.51,600.97 651.85,600.45 C650.20,599.93 648.53,599.44 646.86,598.98 C645.19,598.52 643.51,598.08 641.83,597.68 C640.15,597.28 638.45,596.90 636.76,596.56 C635.06,596.21 633.36,595.90 631.65,595.61 C629.95,595.33 628.23,595.07 626.52,594.85 C624.80,594.63 623.08,594.43 621.36,594.27 C619.64,594.11 617.91,593.98 616.18,593.89 C614.45,593.79 612.72,593.72 610.99,593.69 C609.26,593.66 607.53,593.66 605.79,593.69 C604.06,593.72 602.33,593.79 600.59,593.89 C598.86,593.99 597.12,594.12 595.39,594.29 C593.66,594.46 591.06,594.80 590.20,594.90 Z" fill="#e82e8a"/>
<path d="M590.19,594.90 C590.75,594.66 592.41,593.85 593.54,593.44 C594.67,593.04 595.83,592.71 596.99,592.46 C598.15,592.22 599.33,592.05 600.49,591.96 C601.66,591.86 602.83,591.85 603.99,591.90 C605.14,591.95 606.29,592.08 607.42,592.28 C608.54,592.48 609.65,592.75 610.73,593.08 C611.81,593.41 612.86,593.82 613.88,594.28 C614.90,594.75 615.88,595.28 616.85,595.85 C617.82,596.42 618.75,597.06 619.67,597.73 C620.59,598.40 621.48,599.12 622.36,599.87 C623.24,600.62 624.10,601.41 624.94,602.22 C625.78,603.03 626.61,603.88 627.42,604.73 C628.24,605.59 629.04,606.47 629.83,607.36 C630.62,608.24 631.41,609.14 632.18,610.04 C632.96,610.94 633.73,611.84 634.50,612.74 C635.26,613.65 636.02,614.55 636.77,615.46 C637.53,616.37 638.27,617.28 639.01,618.19 C639.75,619.11 640.48,620.02 641.21,620.94 C641.93,621.86 642.65,622.79 643.37,623.71 C644.08,624.64 644.78,625.57 645.48,626.50 C646.18,627.44 646.87,628.37 647.55,629.31 C648.24,630.25 648.91,631.20 649.58,632.15 C650.25,633.10 650.92,634.05 651.57,635.00 C652.22,635.96 652.87,636.92 653.51,637.89 C654.15,638.85 654.78,639.82 655.41,640.80 C656.03,641.77 656.65,642.75 657.25,643.73 C657.86,644.72 658.46,645.71 659.05,646.70 C659.65,647.69 660.23,648.69 660.81,649.70 C661.38,650.70 661.95,651.71 662.51,652.73 C663.07,653.74 663.62,654.76 664.16,655.79 C664.71,656.82 665.24,657.85 665.77,658.89 C666.29,659.93 666.81,660.97 667.32,662.02 C667.82,663.07 668.56,664.67 668.81,665.20 L658.80,665.20 C658.56,664.73 657.82,663.34 657.33,662.42 C656.84,661.49 656.34,660.57 655.85,659.64 C655.35,658.71 654.85,657.79 654.35,656.86 C653.85,655.94 653.35,655.01 652.85,654.09 C652.34,653.17 651.83,652.24 651.32,651.32 C650.81,650.40 650.30,649.48 649.78,648.56 C649.27,647.65 648.75,646.73 648.22,645.81 C647.70,644.90 647.17,643.99 646.64,643.08 C646.11,642.16 645.57,641.26 645.03,640.35 C644.49,639.44 643.94,638.54 643.39,637.64 C642.84,636.74 642.28,635.84 641.72,634.95 C641.16,634.05 640.60,633.16 640.02,632.27 C639.45,631.38 638.87,630.50 638.29,629.62 C637.70,628.74 637.11,627.86 636.52,626.99 C635.92,626.11 635.32,625.25 634.71,624.38 C634.09,623.52 633.48,622.66 632.85,621.80 C632.23,620.95 631.59,620.10 630.95,619.25 C630.31,618.40 629.67,617.56 629.01,616.73 C628.35,615.89 627.69,615.06 627.01,614.24 C626.34,613.42 625.66,612.60 624.97,611.78 C624.28,610.97 623.58,610.16 622.87,609.37 C622.16,608.57 621.44,607.78 620.71,607.01 C619.97,606.23 619.23,605.47 618.47,604.74 C617.71,604.00 616.94,603.28 616.16,602.60 C615.37,601.91 614.57,601.24 613.75,600.62 C612.93,599.99 612.09,599.39 611.23,598.84 C610.38,598.29 609.50,597.77 608.61,597.30 C607.71,596.83 606.79,596.40 605.85,596.03 C604.91,595.66 603.95,595.33 602.97,595.07 C601.99,594.80 600.99,594.59 599.97,594.44 C598.94,594.29 597.90,594.20 596.83,594.18 C595.77,594.16 594.68,594.20 593.57,594.33 C592.47,594.45 590.76,594.81 590.19,594.90 Z" fill="#e5342a"/>
<text x="602.60" y="542.60" font-size="17.8" fill="#e3963f" stroke="#e3963f" stroke-width="0.2" textLength="344.20" lengthAdjust="spacingAndGlyphs">Срок службы в циклическом режиме</text>
<text x="556.80" y="573.40" font-size="12.6" fill="#434343" stroke="#434343" stroke-width="0.35" textLength="19.70" lengthAdjust="spacingAndGlyphs">120</text>
<text x="556.80" y="607.60" font-size="12.6" fill="#434343" stroke="#434343" stroke-width="0.35" textLength="19.70" lengthAdjust="spacingAndGlyphs">100</text>
<text x="563.40" y="641.80" font-size="12.6" fill="#434343" stroke="#434343" stroke-width="0.35" textLength="13.10" lengthAdjust="spacingAndGlyphs">80</text>
<text x="563.40" y="676.00" font-size="12.6" fill="#434343" stroke="#434343" stroke-width="0.35" textLength="13.10" lengthAdjust="spacingAndGlyphs">60</text>
<text x="563.40" y="710.20" font-size="12.6" fill="#434343" stroke="#434343" stroke-width="0.35" textLength="13.10" lengthAdjust="spacingAndGlyphs">40</text>
<text x="563.40" y="744.40" font-size="12.6" fill="#434343" stroke="#434343" stroke-width="0.35" textLength="13.10" lengthAdjust="spacingAndGlyphs">20</text>
<text x="579.25" y="779.60" font-size="12.6" fill="#434343" stroke="#434343" stroke-width="0.35" textLength="5.75" lengthAdjust="spacingAndGlyphs">0</text>
<text x="632.50" y="782.30" font-size="12.6" fill="#434343" stroke="#434343" stroke-width="0.35" textLength="20.75" lengthAdjust="spacingAndGlyphs">200</text>
<text x="686.25" y="782.30" font-size="12.6" fill="#434343" stroke="#434343" stroke-width="0.35" textLength="20.50" lengthAdjust="spacingAndGlyphs">400</text>
<text x="740.00" y="782.30" font-size="12.6" fill="#434343" stroke="#434343" stroke-width="0.35" textLength="20.00" lengthAdjust="spacingAndGlyphs">600</text>
<text x="793.25" y="782.30" font-size="12.6" fill="#434343" stroke="#434343" stroke-width="0.35" textLength="20.50" lengthAdjust="spacingAndGlyphs">800</text>
<text x="844.50" y="782.30" font-size="12.6" fill="#434343" stroke="#434343" stroke-width="0.35" textLength="26.25" lengthAdjust="spacingAndGlyphs">1000</text>
<text x="898.75" y="782.30" font-size="12.6" fill="#434343" stroke="#434343" stroke-width="0.35" textLength="25.75" lengthAdjust="spacingAndGlyphs">1200</text>
<text x="938.25" y="782.30" font-size="12.6" fill="#434343" stroke="#434343" stroke-width="0.35" textLength="26.25" lengthAdjust="spacingAndGlyphs">1400</text>
<text x="735.00" y="805.20" font-size="12.6" fill="#434343" stroke="#434343" stroke-width="0.35" textLength="83.25" lengthAdjust="spacingAndGlyphs">Число циклов</text>
<text transform="translate(550.20,696.50) rotate(-90)" font-size="12.4" fill="#434343" stroke="#434343" stroke-width="0.35" textLength="62.50" lengthAdjust="spacingAndGlyphs">Емкость (%)</text>
<text x="609.60" y="680.20" font-size="11.8" fill="#434343" stroke="#434343" stroke-width="0.4" textLength="77.40" lengthAdjust="spacingAndGlyphs">100% разряд</text>
<text x="700.00" y="680.20" font-size="11.8" fill="#434343" stroke="#434343" stroke-width="0.4" textLength="70.00" lengthAdjust="spacingAndGlyphs">50% разряд</text>
<text x="863.00" y="680.20" font-size="11.8" fill="#434343" stroke="#434343" stroke-width="0.4" textLength="71.00" lengthAdjust="spacingAndGlyphs">30% разряд</text>
</svg>
</body>
</html>
